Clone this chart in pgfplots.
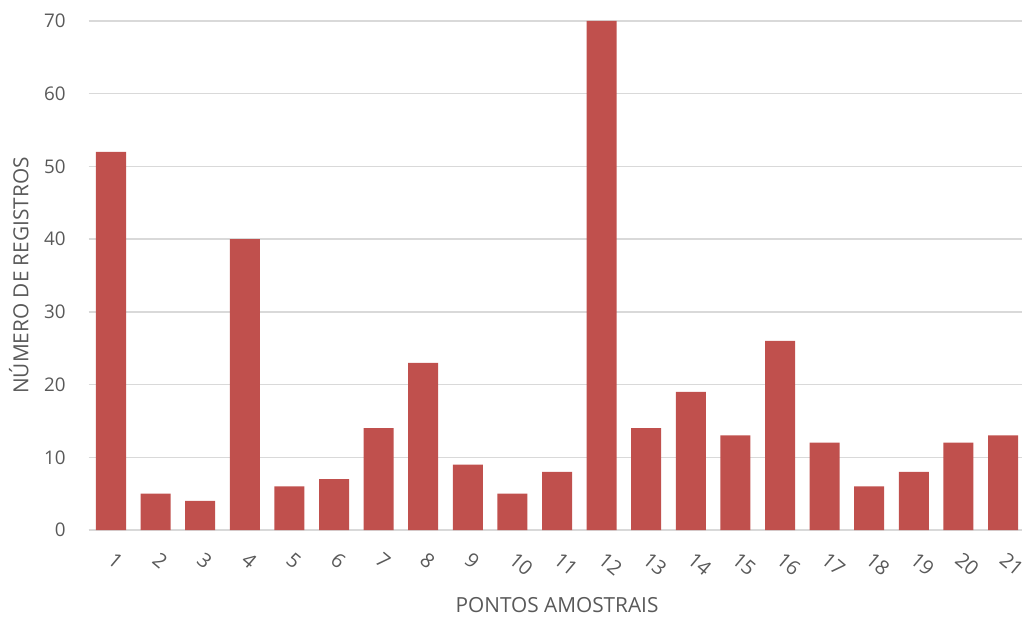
\documentclass[border=0pt]{standalone}
\usepackage{fontspec}
\setmainfont{Open Sans}
\usepackage{pgfplots}
\pgfplotsset{compat=1.18}
\definecolor{barred}{HTML}{C0504D}
\definecolor{txt}{HTML}{595959}
\definecolor{gridc}{HTML}{D9D9D9}
\begin{document}
\begin{tikzpicture}[x=1pt,y=1pt]
\useasboundingbox (-44.35,-43.5) rectangle (466.65,265);
\begin{axis}[
  at={(0,0)}, anchor=south west,
  scale only axis, width=468.3pt, height=254.5pt,
  xmin=0.5, xmax=21.5, ymin=0, ymax=70,
  ybar, bar width=15pt,
  xtick={1,...,21}, ytick={0,10,...,70},
  /pgf/number format/assume math mode=true,
  ymajorgrids, grid style={gridc, line width=0.7pt},
  axis lines*=left,
  y axis line style={draw=none},
  x axis line style={gridc, line width=0.7pt, -},
  major tick length=0pt, tick style={draw=none},
  ticklabel style={font=\fontsize{9.4}{11}\selectfont, text=txt},
  yticklabel style={anchor=east, inner sep=0pt, xshift=-11.3pt},
  xticklabel style={font=\fontsize{10}{12}\selectfont, rotate=-40, anchor=north west, inner sep=0pt, xshift=8.5pt, yshift=-6.5pt},
  xlabel={PONTOS AMOSTRAIS},
  ylabel={NÚMERO DE REGISTROS},
  label style={font=\fontsize{10.4}{12}\selectfont, text=txt},
  xlabel style={at={(axis description cs:0.5,-0.1473)}, anchor=center},
  ylabel style={at={(axis description cs:-0.0747,0.5)}, anchor=center, rotate=0},
]
\addplot[fill=barred, draw=none] coordinates {
(1,52) (2,5) (3,4) (4,40) (5,6) (6,7) (7,14) (8,23) (9,9) (10,5) (11,8)
(12,70) (13,14) (14,19) (15,13) (16,26) (17,12) (18,6) (19,8) (20,12) (21,13)
};
\end{axis}
\end{tikzpicture}
\end{document}
